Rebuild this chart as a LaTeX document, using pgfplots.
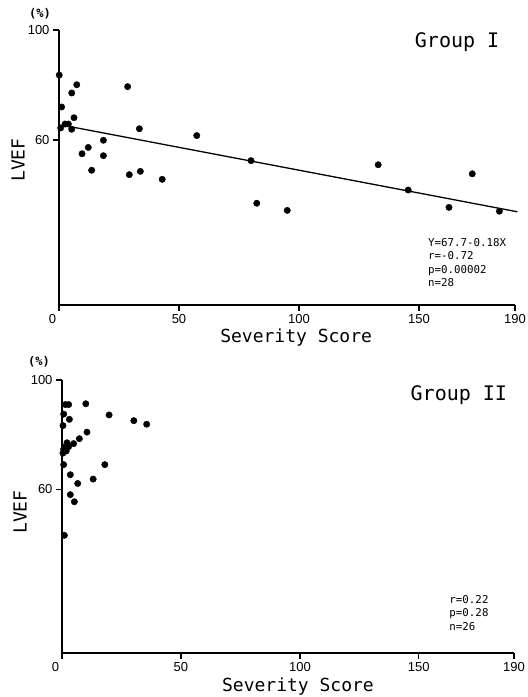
\documentclass[border=0pt]{standalone}
\usepackage{fontspec}
\setmainfont{Liberation Sans}
\newfontfamily\plotmono{DejaVu Sans Mono}
\usepackage{pgfplots}
\pgfplotsset{compat=1.18}
\pgfplotsset{
  scatterstyle/.style={
    scale only axis,
    xmin=0, xmax=190, ymin=0, ymax=100,
    axis lines*=left,
    axis line style={line width=1.6pt},
    tick align=outside,
    major tick length=6pt,
    tick style={line width=1.3pt, black},
    xtick={0,50,100,150,190},
    xticklabels={\makebox[0pt][r]{0\hspace{3pt}},50,100,150,190},
    ytick={60,100},
    yticklabels={60,100},
    ticklabel style={font=\fontsize{13}{15}\selectfont},
    clip=false,
  },
}
\begin{document}
\begin{tikzpicture}
\useasboundingbox (0,0) rectangle (528pt,697pt);
% ---------------- Group I ----------------
\begin{axis}[scatterstyle,
  at={(59pt,392pt)}, anchor=south west,
  width=456pt, height=275pt,
  xlabel={Severity Score},
  xlabel style={at={(axis description cs:0.52,0)}, anchor=center, yshift=-33pt, font=\plotmono\fontsize{18}{20}\selectfont},
  ylabel={LVEF},
  ylabel style={at={(axis description cs:0,0.527)}, anchor=center, rotate=0, yshift=41pt, font=\plotmono\fontsize{18}{20}\selectfont},
]
\addplot[only marks, mark=*, mark size=3.2pt, black] coordinates {
(0.1,83.6) (7.4,80.1) (5.3,77.1) (28.6,79.4) (1.1,72.0) (6.25,68.1)
(0.7,64.4) (2.5,65.8) (3.9,65.8) (5.3,63.9) (33.5,64.1) (57.4,61.6)
(18.5,59.9) (12.2,57.3) (9.6,55.0) (18.5,54.3) (13.6,49.0) (29.3,47.4)
(33.9,48.6) (43.0,45.7) (80.0,52.5) (82.4,37.0) (95.1,34.4) (133.0,51.0)
(145.5,41.8) (172.2,47.7) (162.5,35.5) (183.5,34.1)
};
\addplot[no marks, black, line width=1.3pt] coordinates {(2,65.3) (191,33.9)};
\node[font=\plotmono\fontsize{20}{22}\selectfont, anchor=center] at (axis description cs:0.873,0.956) {Group I};
\node[font=\plotmono\bfseries\fontsize{12}{14}\selectfont, anchor=center] at (axis description cs:0,1) [xshift=-19pt, yshift=16pt] {(\%)};
\node[font=\plotmono\fontsize{10.8}{13.5}\selectfont, anchor=north west, align=left, inner sep=0pt] at (axis cs:153.75,24.4) {Y=67.7-0.18X\\r=-0.72\\p=0.00002\\n=28};
\end{axis}
% ---------------- Group II ----------------
\begin{axis}[scatterstyle,
  at={(62pt,44pt)}, anchor=south west,
  width=452pt, height=273pt,
  xlabel={Severity Score},
  xlabel style={at={(axis description cs:0.522,0)}, anchor=center, yshift=-34pt, font=\plotmono\fontsize{18}{20}\selectfont},
  ylabel={LVEF},
  ylabel style={at={(axis description cs:0,0.516)}, anchor=center, rotate=0, yshift=42pt, font=\plotmono\fontsize{18}{20}\selectfont},
]
\addplot[only marks, mark=*, mark size=3.2pt, black] coordinates {
(1.4,91.0) (2.8,91.0) (10.0,91.3) (0.7,87.5) (3.1,85.6) (19.8,87.2)
(30.2,85.1) (35.6,83.8) (0.4,83.3) (10.5,80.9) (7.3,78.5) (4.9,76.7)
(2.1,77.0) (1.4,75.6) (2.8,75.6) (0.7,74.6) (0.4,73.2) (18.0,69.0)
(0.7,69.0) (3.5,65.3) (13.1,63.7) (6.6,62.1) (3.5,58.0) (5.2,55.4)
(1.0,43.1) (1.8,74.0)
};
\node[font=\plotmono\fontsize{20}{22}\selectfont, anchor=center] at (axis description cs:0.878,0.945) {Group II};
\node[font=\plotmono\bfseries\fontsize{12}{14}\selectfont, anchor=center] at (axis description cs:0,1) [xshift=-23pt, yshift=18pt] {(\%)};
\node[font=\plotmono\fontsize{10.8}{13.5}\selectfont, anchor=north west, align=left, inner sep=0pt] at (axis cs:162.8,21.3) {r=0.22\\p=0.28\\n=26};
\end{axis}
\end{tikzpicture}
\end{document}
